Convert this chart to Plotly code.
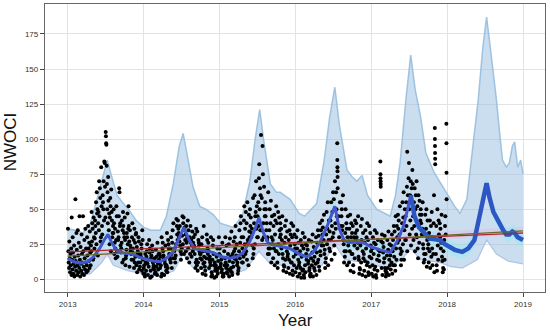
import plotly.graph_objects as go

# ---------------- observed points (fraction of year, NWOCI) ----------------
pts_2013 = [
(.003,36),(.008,20),(.012,12),(.017,8),(.021,27),(.026,15),(.031,5),(.036,18),(.040,10),(.045,22),(.049,3),
(.052,44),(.056,14),(.061,7),(.065,30),(.069,19),(.074,4),(.078,11),(.083,24),(.087,2),(.092,16),(.096,9),
(.101,57),(.105,13),(.110,6),(.114,33),(.119,21),(.123,3),(.128,10),(.132,35),(.137,17),(.141,5),(.146,26),
(.151,8),(.155,45),(.160,14),(.164,2),(.169,23),(.173,11),(.178,6),(.182,32),(.187,18),(.191,4),(.196,12),
(.201,45),(.205,20),(.210,9),(.214,3),(.219,28),(.223,15),(.228,7),(.232,36),(.237,12),(.241,22),(.246,5),
(.251,10),(.255,30),(.260,17),(.264,6),(.269,38),(.273,22),(.278,13),(.282,26),(.287,8),(.291,34),(.296,19),
(.323,40),(.305,24),(.337,15),(.314,48),(.346,30),(.301,10),(.328,36),(.310,20),(.341,44),(.319,27),(.332,14),
(.391,50),(.369,33),(.351,22),(.382,62),(.360,42),(.396,17),(.373,55),(.355,29),(.387,47),(.364,38),(.378,25),
(.423,65),(.405,48),(.437,30),(.414,70),(.446,52),(.401,40),(.428,58),(.410,35),(.441,80),(.419,45),(.432,27),
(.491,66),(.469,50),(.451,38),(.482,84),(.460,60),(.496,44),(.473,70),(.455,32),(.487,83),(.464,55),(.478,42),
(.500,105),(.503,102),(.506,97),(.509,96),(.512,81),(.516,68),(.520,50),(.524,62),(.528,40),(.532,73),(.537,56),(.541,35),(.546,47),
(.573,64),(.555,44),(.587,30),(.564,52),(.596,38),(.551,25),(.578,48),(.560,58),(.591,33),(.569,20),(.582,42),
(.623,36),(.605,50),(.637,28),(.614,18),(.646,45),(.601,33),(.628,22),(.610,40),(.641,52),(.619,26),(.632,15),
(.691,40),(.669,30),(.651,20),(.682,62),(.660,34),(.696,24),(.673,45),(.655,16),(.687,38),(.664,28),(.678,65),
(.723,35),(.705,22),(.737,14),(.714,42),(.746,30),(.701,19),(.728,48),(.710,26),(.741,33),(.719,12),(.732,38),
(.791,25),(.769,17),(.751,44),(.782,30),(.760,10),(.796,36),(.773,21),(.755,28),(.787,47),(.764,15),(.778,33),
(.823,24),(.805,38),(.837,18),(.814,9),(.846,30),(.801,52),(.828,20),(.810,27),(.841,14),(.819,35),(.832,22),
(.891,16),(.869,28),(.851,40),(.882,12),(.860,22),(.896,32),(.873,8),(.855,19),(.887,26),(.864,14),(.878,36),
(.923,20),(.905,10),(.937,27),(.914,5),(.946,16),(.901,33),(.928,12),(.910,23),(.941,7),(.919,18),(.932,30),
(.991,14),(.969,25),(.951,9),(.982,35),(.960,18),(.996,4),(.973,22),(.955,12),(.987,28),(.964,16),(.978,6),
]

pts_2014 = [
(.027,12),(.012,4),(.042,20),(.002,8),(.037,16),(.017,2),(.047,25),(.007,10),(.032,6),(.022,18),
(.067,9),(.097,15),(.057,3),(.082,22),(.052,11),(.092,6),(.072,28),(.062,14),(.087,1),(.077,19),
(.137,7),(.102,17),(.122,12),(.147,4),(.112,24),(.132,10),(.107,2),(.142,15),(.117,20),(.127,8),
(.152,13),(.157,5),(.162,21),(.167,9),(.172,16),(.177,3),(.182,26),(.187,11),(.192,7),(.197,18),
(.227,10),(.212,18),(.242,4),(.202,14),(.237,30),(.217,8),(.247,22),(.207,12),(.232,2),(.222,16),
(.267,15),(.297,6),(.257,20),(.282,11),(.252,26),(.292,9),(.272,3),(.262,17),(.287,24),(.277,13),
(.337,18),(.302,10),(.322,28),(.347,14),(.312,5),(.332,22),(.307,33),(.342,16),(.317,8),(.327,25),
(.352,22),(.357,12),(.362,30),(.367,18),(.372,8),(.377,26),(.382,35),(.387,15),(.392,40),(.397,20),
(.427,25),(.412,15),(.442,32),(.402,20),(.437,38),(.417,12),(.447,28),(.407,22),(.432,43),(.422,17),
(.467,30),(.497,18),(.457,36),(.482,24),(.452,42),(.492,14),(.472,27),(.462,33),(.487,20),(.477,38),
(.537,35),(.502,22),(.522,40),(.547,28),(.512,45),(.532,18),(.507,31),(.542,37),(.517,25),(.527,44),
(.552,32),(.557,20),(.562,38),(.567,26),(.572,15),(.577,30),(.582,42),(.587,22),(.592,35),(.597,28),
(.627,28),(.612,18),(.642,34),(.602,12),(.637,24),(.617,38),(.647,20),(.607,30),(.632,16),(.622,26),
(.667,22),(.697,14),(.657,30),(.682,8),(.652,26),(.692,36),(.672,18),(.662,24),(.687,12),(.677,32),
(.737,20),(.702,10),(.722,28),(.747,15),(.712,6),(.732,24),(.707,34),(.742,18),(.717,12),(.727,26),
(.752,18),(.757,8),(.762,25),(.767,14),(.772,30),(.777,4),(.782,20),(.787,11),(.792,38),(.797,16),
(.827,15),(.812,6),(.842,22),(.802,12),(.837,28),(.817,3),(.847,18),(.807,9),(.832,32),(.822,20),
(.867,14),(.897,5),(.857,20),(.882,10),(.852,26),(.892,2),(.872,16),(.862,8),(.887,30),(.877,12),
(.937,12),(.902,3),(.922,18),(.947,8),(.912,24),(.932,1),(.907,14),(.942,6),(.917,28),(.927,10),
(.952,10),(.957,2),(.962,16),(.967,6),(.972,22),(.977,4),(.982,13),(.987,8),(.992,30),(.997,18),
]

pts_2015 = [
(.017,11),(.047,3),(.007,17),(.032,7),(.002,22),(.042,2),(.022,14),(.012,9),(.037,26),(.027,5),
(.087,8),(.052,2),(.072,15),(.097,5),(.062,20),(.082,12),(.057,4),(.092,24),(.067,10),(.077,30),
(.102,10),(.107,4),(.112,18),(.117,7),(.122,25),(.127,2),(.132,13),(.137,29),(.142,6),(.147,16),
(.177,12),(.162,5),(.192,20),(.152,8),(.187,27),(.167,3),(.197,15),(.157,34),(.182,9),(.172,18),
(.217,14),(.247,6),(.207,22),(.232,10),(.202,30),(.242,4),(.222,17),(.212,38),(.237,12),(.227,25),
(.287,18),(.252,8),(.272,26),(.297,12),(.262,35),(.282,45),(.257,20),(.292,30),(.267,15),(.277,40),
(.302,22),(.307,12),(.312,30),(.317,16),(.322,42),(.327,52),(.332,25),(.337,36),(.342,18),(.347,48),
(.377,26),(.362,14),(.392,34),(.352,20),(.387,46),(.367,55),(.397,30),(.357,40),(.382,10),(.372,28),
(.417,30),(.447,18),(.407,38),(.432,24),(.402,50),(.442,58),(.422,33),(.412,44),(.437,15),(.427,36),
(.487,36),(.452,22),(.472,45),(.497,30),(.462,60),(.482,70),(.457,40),(.492,52),(.467,25),(.477,48),
(.502,45),(.506,30),(.511,55),(.515,38),(.520,72),(.524,82),(.529,50),(.533,65),(.538,35),(.542,60),(.547,103),
(.577,40),(.562,28),(.592,50),(.552,35),(.587,66),(.567,95),(.597,45),(.557,58),(.582,30),(.572,75),
(.617,35),(.647,22),(.607,45),(.632,30),(.602,55),(.642,62),(.622,40),(.612,50),(.637,18),(.627,28),
(.687,30),(.652,18),(.672,40),(.697,25),(.662,50),(.682,12),(.657,35),(.692,45),(.667,22),(.677,56),
(.702,28),(.707,15),(.712,38),(.717,22),(.722,46),(.727,10),(.732,32),(.737,42),(.742,20),(.747,52),
(.777,25),(.762,12),(.792,35),(.752,20),(.787,44),(.767,8),(.797,30),(.757,40),(.782,18),(.772,48),
(.817,22),(.847,10),(.807,32),(.832,18),(.802,40),(.842,6),(.822,28),(.812,36),(.837,15),(.827,45),
(.887,20),(.852,9),(.872,30),(.897,16),(.862,38),(.882,5),(.857,26),(.892,34),(.867,14),(.877,42),
(.902,18),(.907,8),(.912,28),(.917,14),(.922,35),(.927,4),(.932,24),(.937,32),(.942,12),(.947,40),
(.977,16),(.962,6),(.992,25),(.952,12),(.987,32),(.967,3),(.997,22),(.957,30),(.982,10),(.972,38),
]

pts_2016 = [
(.037,14),(.002,5),(.022,22),(.047,10),(.012,30),(.032,2),(.007,18),(.042,26),(.017,8),(.027,35),
(.052,12),(.057,4),(.062,20),(.067,8),(.072,28),(.077,1),(.082,16),(.087,24),(.092,6),(.097,33),
(.127,10),(.112,3),(.142,18),(.102,7),(.137,25),(.117,1),(.147,14),(.107,22),(.132,5),(.122,30),
(.167,11),(.197,2),(.157,17),(.182,6),(.152,24),(.192,3),(.172,13),(.162,21),(.187,8),(.177,28),
(.237,13),(.202,4),(.222,19),(.247,8),(.212,27),(.232,2),(.207,15),(.242,23),(.217,10),(.227,32),
(.252,16),(.257,6),(.262,22),(.267,11),(.272,30),(.277,3),(.282,19),(.287,26),(.292,12),(.297,35),
(.327,20),(.312,9),(.342,27),(.302,14),(.337,35),(.317,6),(.347,24),(.307,31),(.332,17),(.322,40),
(.367,24),(.397,12),(.357,32),(.382,18),(.352,42),(.392,8),(.372,28),(.362,37),(.387,21),(.377,46),
(.437,28),(.402,15),(.422,36),(.447,22),(.412,48),(.432,10),(.407,32),(.442,42),(.417,25),(.427,55),
(.452,34),(.457,20),(.462,42),(.467,28),(.472,55),(.477,14),(.482,38),(.487,48),(.492,30),(.497,62),
(.527,40),(.512,24),(.542,50),(.502,33),(.537,62),(.517,18),(.547,45),(.507,57),(.532,36),(.522,70),
(.552,97),(.553,85),(.554,80),(.555,77),(.556,73),(.557,65),(.567,45),(.577,30),(.587,55),(.597,38),
(.617,35),(.647,20),(.607,45),(.632,28),(.602,55),(.642,12),(.622,38),(.612,50),(.637,25),(.627,60),
(.687,30),(.652,16),(.672,40),(.697,24),(.662,50),(.682,10),(.657,33),(.692,45),(.667,20),(.677,36),
(.702,27),(.707,12),(.712,36),(.717,20),(.722,46),(.727,6),(.732,30),(.737,40),(.742,18),(.747,33),
(.777,24),(.762,10),(.792,33),(.752,18),(.787,42),(.767,5),(.797,28),(.757,38),(.782,15),(.772,30),
(.817,22),(.847,8),(.807,30),(.832,16),(.802,40),(.842,4),(.822,26),(.812,35),(.837,14),(.827,45),
(.887,20),(.852,7),(.872,28),(.897,15),(.862,38),(.882,3),(.857,24),(.892,33),(.867,12),(.877,43),
(.902,18),(.907,6),(.912,26),(.917,13),(.922,35),(.927,2),(.932,22),(.937,30),(.942,10),(.947,40),
(.977,16),(.962,5),(.992,24),(.952,12),(.987,33),(.967,3),(.997,20),(.957,28),(.982,9),(.972,38),
]

pts_2017 = [
(.002,15),(.007,4),(.012,22),(.017,10),(.022,30),(.027,2),(.032,18),(.037,26),(.042,7),(.047,35),
(.077,14),(.062,3),(.092,21),(.052,9),(.087,28),(.067,1),(.097,17),(.057,25),(.082,6),(.072,33),
(.120,84),(.121,75),(.122,72),(.123,70),(.124,68),(.125,66),(.126,56),(.107,13),(.112,20),(.132,27),(.137,8),(.142,32),(.147,3),
(.167,12),(.197,4),(.157,19),(.182,8),(.152,26),(.192,2),(.172,15),(.162,23),(.187,6),(.177,31),
(.237,14),(.202,5),(.222,21),(.247,10),(.212,28),(.232,3),(.207,17),(.242,25),(.217,8),(.227,34),
(.252,17),(.257,7),(.262,24),(.267,12),(.272,32),(.277,4),(.282,20),(.287,28),(.292,10),(.297,38),
(.327,22),(.312,10),(.342,30),(.302,16),(.337,38),(.317,6),(.347,26),(.307,34),(.332,14),(.322,45),
(.367,28),(.397,14),(.357,36),(.382,22),(.352,46),(.392,10),(.372,32),(.362,42),(.387,18),(.377,52),
(.437,35),(.402,20),(.422,44),(.447,28),(.412,55),(.432,14),(.407,40),(.442,50),(.417,25),(.427,62),
(.452,45),(.456,28),(.461,55),(.465,38),(.470,66),(.474,20),(.479,50),(.483,60),(.474,91),(.492,72),(.497,83),
(.502,50),(.506,32),(.511,60),(.515,42),(.520,70),(.524,24),(.529,55),(.533,65),(.538,36),(.542,78),(.547,68),
(.552,45),(.557,28),(.562,55),(.567,38),(.572,65),(.577,20),(.582,50),(.587,60),(.592,32),(.597,70),
(.627,38),(.612,22),(.642,46),(.602,30),(.637,56),(.617,15),(.647,42),(.607,52),(.632,26),(.622,60),
(.667,32),(.697,18),(.657,40),(.682,25),(.652,50),(.692,12),(.672,36),(.662,46),(.687,22),(.677,55),
(.737,28),(.702,14),(.722,36),(.747,22),(.712,46),(.732,9),(.707,32),(.742,42),(.717,18),(.727,50),
(.752,25),(.757,12),(.762,33),(.767,20),(.772,42),(.777,8),(.782,30),(.787,38),(.792,16),(.797,48),
(.838,108),(.839,100),(.840,95),(.841,90),(.842,86),(.843,82),(.802,22),(.807,10),(.812,30),(.817,18),(.822,40),(.827,60),(.832,5),
(.877,24),(.862,10),(.892,32),(.852,18),(.887,42),(.867,6),(.897,28),(.857,38),(.882,14),(.872,50),
(.917,22),(.947,8),(.907,30),(.932,16),(.902,40),(.942,5),(.922,26),(.912,36),(.937,13),(.927,46),
(.990,111),(.991,97),(.992,76),(.993,57),(.952,20),(.957,7),(.962,28),(.967,14),(.972,38),(.977,45),(.982,32),
]

point_sets = {2013: pts_2013, 2014: pts_2014, 2015: pts_2015, 2016: pts_2016, 2017: pts_2017}

# ---------------- forecast (yhat) knots ----------------
yhat_x = [2013.00, 2013.08, 2013.16, 2013.26, 2013.34, 2013.42, 2013.48, 2013.53, 2013.58, 2013.65,
          2013.75, 2013.86, 2013.95, 2014.04, 2014.13, 2014.22, 2014.30, 2014.39, 2014.46, 2014.53,
          2014.60, 2014.67, 2014.74, 2014.83, 2014.92, 2015.03, 2015.14, 2015.23, 2015.31, 2015.40,
          2015.47, 2015.52, 2015.58, 2015.64, 2015.71, 2015.80, 2015.93, 2016.05, 2016.15, 2016.23,
          2016.32, 2016.42, 2016.52, 2016.58, 2016.64, 2016.70, 2016.80, 2016.90, 2017.00, 2017.12,
          2017.25, 2017.34, 2017.42, 2017.48, 2017.52, 2017.57, 2017.63, 2017.67, 2017.77, 2017.84,
          2017.90, 2017.97, 2018.03, 2018.10, 2018.20, 2018.28, 2018.36, 2018.43, 2018.49, 2018.52,
          2018.56, 2018.61, 2018.65, 2018.70, 2018.74, 2018.78, 2018.82, 2018.86, 2018.89, 2018.93,
          2018.97, 2019.00]
yhat_y = [15, 12.5, 11.5, 12.5, 16, 22, 28, 32, 26, 20,
          18.5, 18, 15.5, 14, 13, 12.5, 15, 19.5, 28, 37,
          28, 22, 21, 20, 19, 16, 15, 16, 19, 27,
          36, 44, 33, 26, 24.5, 23.5, 22, 18, 16, 19,
          26, 38, 52, 36, 28, 26, 26.5, 26, 23, 21,
          19, 27, 37, 50, 60, 45, 37, 35, 29, 28.5,
          28, 25, 23, 21, 19.5, 22, 28, 45, 62, 68.5,
          58, 48, 44, 38, 35, 32, 32, 34, 33, 30,
          29, 28]

# ---------------- uncertainty interval ----------------
upper_x = [2013.00, 2013.10, 2013.20, 2013.30, 2013.40, 2013.47, 2013.52, 2013.57, 2013.65, 2013.72,
           2013.80, 2013.90, 2014.00, 2014.10, 2014.22, 2014.30, 2014.39, 2014.47, 2014.52, 2014.57,
           2014.65, 2014.74, 2014.82, 2014.92, 2015.01, 2015.18, 2015.30, 2015.40, 2015.47, 2015.53,
           2015.58, 2015.67, 2015.75, 2015.80, 2015.93, 2016.05, 2016.12, 2016.28, 2016.38, 2016.45,
           2016.52, 2016.58, 2016.68, 2016.75, 2016.81, 2016.88, 2016.95, 2017.07, 2017.25, 2017.32,
           2017.38, 2017.46, 2017.52, 2017.58, 2017.65, 2017.72, 2017.83, 2017.92, 2018.00, 2018.10,
           2018.17, 2018.26, 2018.35, 2018.41, 2018.47, 2018.52, 2018.57, 2018.65, 2018.70, 2018.73,
           2018.78, 2018.82, 2018.86, 2018.89, 2018.93, 2018.97, 2019.00]
upper_y = [36, 35, 33, 40, 60, 75, 85, 75, 60, 55,
           50, 42, 37, 35, 35, 45, 68, 95, 104, 90,
           66, 52, 50, 46, 40, 37, 45, 70, 100, 121,
           100, 68, 62, 62, 57, 47, 45, 54, 85, 115,
           137, 110, 78, 73, 70, 74, 60, 50, 45, 60,
           83, 130, 160, 135, 116, 90, 76, 68, 61, 52,
           47, 57, 100, 128, 165, 187, 165, 128, 100, 85,
           80, 83, 95, 98, 80, 85, 75]

lower_x = [2013.00, 2013.15, 2013.30, 2013.45, 2013.52, 2013.60, 2013.80, 2014.00, 2014.20, 2014.40,
           2014.52, 2014.65, 2014.90, 2015.15, 2015.35, 2015.52, 2015.65, 2015.90, 2016.15, 2016.35,
           2016.52, 2016.65, 2016.90, 2017.20, 2017.40, 2017.52, 2017.65, 2017.90, 2018.05, 2018.20,
           2018.40, 2018.52, 2018.65, 2018.80, 2019.00]
lower_y = [5, 2, 4, 12, 18, 10, 6, 4, 2, 6,
           18, 8, 6, 3, 7, 20, 12, 9, 5, 10,
           25, 14, 12, 8, 14, 22, 14, 12, 9, 8,
           14, 28, 18, 13, 11]

# ---------------- trend lines ----------------
trend_x = [2013.0, 2019.0]
trend_green = [16.5, 34.5]
trend_red = [19.5, 33.0]

x_ticks = [2013, 2014, 2015, 2016, 2017, 2018, 2019]
x_tick_text = ["2013", "2014", "2015", "2016", "2017", "2018", "2019"]
y_ticks = [0, 25, 50, 75, 100, 125, 150, 175]

# ---------------- build figure ----------------
pts_x, pts_y = [], []
for yr, pts in point_sets.items():
    for f, v in pts:
        pts_x.append(yr + f)
        pts_y.append(v)

fig = go.Figure()

band_x = upper_x + lower_x[::-1]
band_y = upper_y + lower_y[::-1]
fig.add_trace(go.Scatter(x=band_x, y=band_y, fill="toself", mode="lines",
                         line=dict(width=0), fillcolor="rgba(150,190,225,0.5)",
                         hoverinfo="skip", showlegend=False))
fig.add_trace(go.Scatter(x=upper_x, y=upper_y, mode="lines",
                         line=dict(color="rgba(150,190,222,0.9)", width=1.5),
                         hoverinfo="skip", showlegend=False))
fig.add_trace(go.Scatter(x=lower_x, y=lower_y, mode="lines",
                         line=dict(color="rgba(160,185,225,0.8)", width=1.2),
                         hoverinfo="skip", showlegend=False))

fig.add_trace(go.Scatter(x=trend_x + trend_x[::-1],
                         y=[trend_green[0] + 3, trend_green[1] + 3, trend_green[1] - 3, trend_green[0] - 3],
                         fill="toself", mode="lines", line=dict(width=0),
                         fillcolor="rgba(235,175,235,0.35)", hoverinfo="skip", showlegend=False))

fig.add_trace(go.Scatter(x=yhat_x + yhat_x[::-1],
                         y=[v + 5 for v in yhat_y] + [v - 5 for v in yhat_y[::-1]],
                         fill="toself", mode="lines", line=dict(width=0),
                         fillcolor="rgba(120,245,240,0.35)", hoverinfo="skip", showlegend=False))

fig.add_trace(go.Scatter(x=pts_x, y=pts_y, mode="markers",
                         marker=dict(color="black", size=4, line=dict(width=0)),
                         showlegend=False))

# forecast line: thinner over the fitted history, thicker over the forecast period
split = 54
fig.add_trace(go.Scatter(x=yhat_x[:split + 1], y=yhat_y[:split + 1], mode="lines",
                         line=dict(color="rgb(70,85,205)", width=3),
                         showlegend=False))
fig.add_trace(go.Scatter(x=yhat_x[split:], y=yhat_y[split:], mode="lines",
                         line=dict(color="rgb(45,85,195)", width=4.5),
                         showlegend=False))

fig.add_trace(go.Scatter(x=trend_x, y=trend_red, mode="lines",
                         line=dict(color="rgb(170,40,50)", width=1.3), showlegend=False))
fig.add_trace(go.Scatter(x=trend_x, y=trend_green, mode="lines",
                         line=dict(color="rgb(100,110,30)", width=1.3), showlegend=False))

axis_common = dict(showline=True, linecolor="#666", linewidth=1.3, mirror=True,
                   showgrid=True, gridcolor="#e3e3e3", gridwidth=1, zeroline=False,
                   ticks="outside", ticklen=4, tickcolor="#444", automargin=False,
                   tickfont=dict(family="Liberation Sans, Arial", size=8, color="#333"))

fig.update_layout(
    width=550, height=330,
    margin=dict(l=45, r=5, t=4, b=38),
    paper_bgcolor="white", plot_bgcolor="white",
    xaxis=dict(range=[2012.70, 2019.29], tickvals=x_ticks, ticktext=x_tick_text, **axis_common),
    yaxis=dict(range=[-9.1, 196.4], tickvals=y_ticks, **axis_common),
    annotations=[
        dict(text="Year", xref="paper", yref="paper", x=0.5, y=0, yshift=-28,
             xanchor="center", yanchor="middle", showarrow=False,
             font=dict(family="Liberation Sans, Arial", size=17, color="#111")),
        dict(text="NWOCI", xref="paper", yref="paper", x=0, xshift=-35, y=0.52,
             xanchor="center", yanchor="middle", textangle=-90, showarrow=False,
             font=dict(family="Liberation Sans, Arial", size=17, color="#111")),
    ],
)

fig.write_html("out.html", config={"displayModeBar": False},
               post_script="document.body.style.margin='0';document.body.style.overflow='hidden';")
